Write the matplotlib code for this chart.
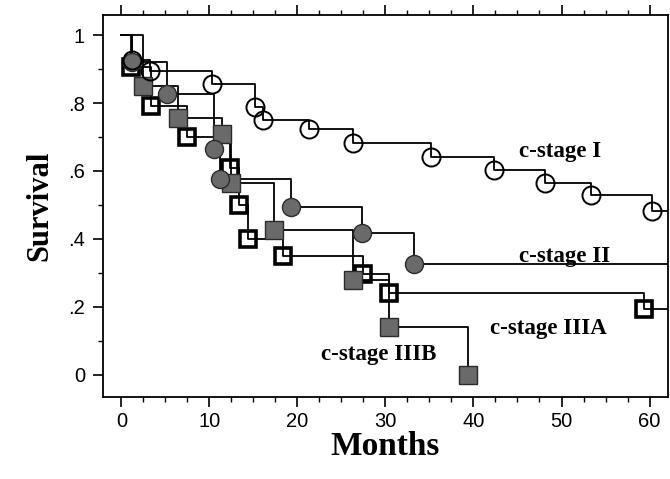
import matplotlib
matplotlib.use('Agg')
import matplotlib.pyplot as plt
from matplotlib.ticker import MultipleLocator, FixedLocator

# Kaplan-Meier survival by clinical stage (months, survival at each step)
stage1_t = [1.2, 3.2, 10.3, 15.2, 16.1, 21.3, 26.3, 35.2, 42.3, 48.1, 53.4, 60.3]
stage1_s = [0.926, 0.895, 0.856, 0.787, 0.75, 0.723, 0.681, 0.642, 0.603, 0.566, 0.529, 0.483]

stage2_t = [1.2, 5.2, 10.5, 11.25, 19.3, 27.35, 33.2]
stage2_s = [0.92, 0.826, 0.665, 0.576, 0.495, 0.417, 0.326]

stage3a_t = [1.1, 3.3, 7.4, 12.3, 13.3, 14.35, 18.3, 27.5, 30.4, 59.4]
stage3a_s = [0.905, 0.79, 0.70, 0.61, 0.50, 0.40, 0.35, 0.297, 0.241, 0.193]

stage3b_t = [2.4, 6.4, 11.4, 12.4, 17.3, 26.3, 30.4, 39.4]
stage3b_s = [0.85, 0.755, 0.71, 0.565, 0.425, 0.28, 0.14, 0.0]

labels = ['c-stage I', 'c-stage II', 'c-stage IIIA', 'c-stage IIIB']
label_pos = [(49.9, 0.656), (50.4, 0.348), (48.5, 0.137), (29.2, 0.059)]

GRAY = '#6a6a6a'

fig = plt.figure(figsize=(6.7, 4.79), dpi=100)
ax = fig.add_axes([0.1537, 0.1712, 0.8433, 0.7975])


def km_curve(t, s, marker, filled, z, extend=True, msize=13):
    xs = [0] + list(t)
    ys = [1.0] + list(s)
    if extend:
        xs.append(70)
        ys.append(ys[-1])
    ax.step(xs, ys, where='post', color='black', lw=1.3, zorder=2)
    if filled:
        ax.plot(t, s, ls='none', marker=marker, ms=msize, mfc=GRAY,
                mec='#2a2a2a', mew=1.0, zorder=z)
    else:
        ax.plot(t, s, ls='none', marker=marker, ms=msize, mfc='none',
                mec='black', mew=1.4 if marker == 'o' else 2.6, zorder=z)


km_curve(stage3a_t, stage3a_s, 's', False, 3, msize=11.5)
km_curve(stage3b_t, stage3b_s, 's', True, 4, extend=False, msize=12.5)
km_curve(stage2_t, stage2_s, 'o', True, 5)
km_curve(stage1_t, stage1_s, 'o', False, 6)

for txt, (x, y) in zip(labels, label_pos):
    ax.text(x, y, txt, fontsize=16.5, fontweight='bold', family='Liberation Serif',
            ha='center', va='center')

ax.set_xlim(-2.1, 62.1)
ax.set_ylim(-0.065, 1.059)

ax.xaxis.set_major_locator(MultipleLocator(10))
ax.xaxis.set_minor_locator(MultipleLocator(2.5))
ax.yaxis.set_major_locator(FixedLocator([0, 0.2, 0.4, 0.6, 0.8, 1.0]))
ax.yaxis.set_minor_locator(FixedLocator([0.1, 0.3, 0.5, 0.7, 0.9]))
ax.set_yticklabels(['0', '.2', '.4', '.6', '.8', '1'])

ax.tick_params(axis='both', which='major', direction='out', length=7, width=1.2,
               labelsize=14.5, top=True, right=False)
ax.tick_params(axis='both', which='minor', direction='out', length=3.5, width=1.0,
               top=True, right=False)
ax.tick_params(axis='x', which='both', labeltop=False)
ax.tick_params(axis='y', which='major', pad=6)
for lab in ax.get_xticklabels() + ax.get_yticklabels():
    lab.set_family('Liberation Sans')

for sp in ax.spines.values():
    sp.set_linewidth(1.3)

ax.set_xlabel('Months', fontsize=24, fontweight='bold', family='Liberation Serif',
              labelpad=0)
ax.set_ylabel('Survival', fontsize=22, fontweight='bold', family='Liberation Serif',
              labelpad=10)

fig.savefig('out.png', dpi=100)
